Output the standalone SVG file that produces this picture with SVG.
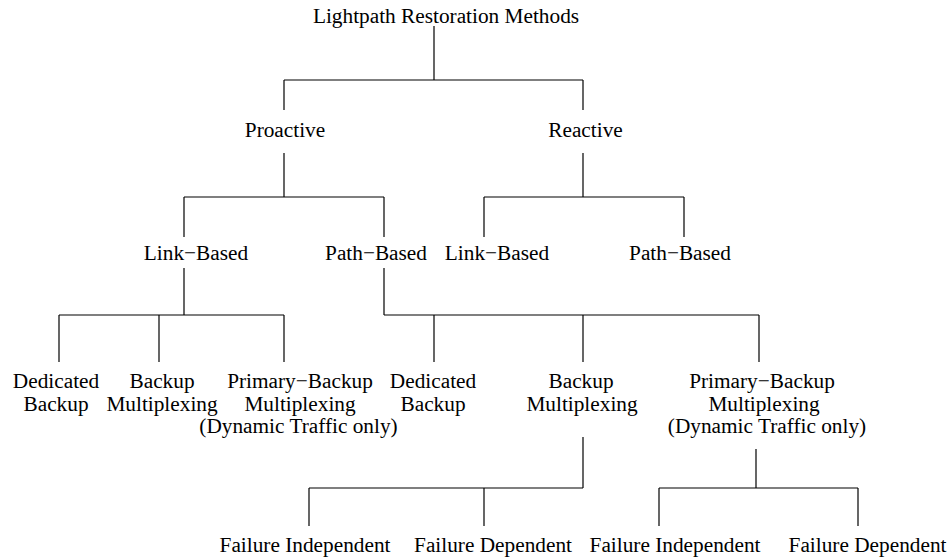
<svg xmlns="http://www.w3.org/2000/svg" width="951" height="558" viewBox="0 0 951 558">
<style>
text{font-family:"Liberation Serif","Times New Roman",serif;font-size:21.3px;fill:#000;text-anchor:middle}
.c line{stroke:#000;stroke-width:1.2;stroke-linecap:butt}
</style>
<rect width="951" height="558" fill="#fff"/>
<g class="c" id="connectors">
<line x1="434" y1="26" x2="434" y2="80"/>
<line x1="284" y1="80" x2="583" y2="80"/>
<line x1="284" y1="80" x2="284" y2="110"/>
<line x1="583" y1="80" x2="583" y2="110"/>
<line x1="284" y1="153" x2="284" y2="197"/>
<line x1="184" y1="197" x2="384" y2="197"/>
<line x1="184" y1="197" x2="184" y2="237"/>
<line x1="384" y1="197" x2="384" y2="237"/>
<line x1="583" y1="153" x2="583" y2="197"/>
<line x1="484" y1="197" x2="684" y2="197"/>
<line x1="484" y1="197" x2="484" y2="237"/>
<line x1="684" y1="197" x2="684" y2="237"/>
<line x1="184" y1="268" x2="184" y2="315"/>
<line x1="59" y1="315" x2="284" y2="315"/>
<line x1="59" y1="315" x2="59" y2="362"/>
<line x1="159" y1="315" x2="159" y2="362"/>
<line x1="284" y1="315" x2="284" y2="362"/>
<line x1="384" y1="268" x2="384" y2="315"/>
<line x1="384" y1="315" x2="759" y2="315"/>
<line x1="434" y1="315" x2="434" y2="362"/>
<line x1="583" y1="315" x2="583" y2="362"/>
<line x1="759" y1="315" x2="759" y2="362"/>
<line x1="583" y1="437" x2="583" y2="488"/>
<line x1="309" y1="488" x2="583" y2="488"/>
<line x1="309" y1="488" x2="309" y2="526"/>
<line x1="484" y1="488" x2="484" y2="526"/>
<line x1="756" y1="449" x2="756" y2="488"/>
<line x1="659" y1="488" x2="858" y2="488"/>
<line x1="659" y1="488" x2="659" y2="526"/>
<line x1="858" y1="488" x2="858" y2="526"/>
</g>
<g id="root"><text x="446" y="23.3">Lightpath Restoration Methods</text></g>
<g id="proactive"><text x="285" y="136.7">Proactive</text></g>
<g id="reactive"><text x="585.5" y="136.7">Reactive</text></g>
<g id="pro-link"><text x="196" y="260">Link−Based</text></g>
<g id="pro-path"><text x="376" y="260">Path−Based</text></g>
<g id="re-link"><text x="497" y="260">Link−Based</text></g>
<g id="re-path"><text x="680" y="260">Path−Based</text></g>
<g id="pl-dedicated"><text x="56" y="388.3">Dedicated</text><text x="56" y="410.5">Backup</text></g>
<g id="pl-backup"><text x="162" y="388.3">Backup</text><text x="162" y="410.5">Multiplexing</text></g>
<g id="pl-primary"><text x="300" y="388.3">Primary−Backup</text><text x="300" y="410.5">Multiplexing</text><text x="298.5" y="433">(Dynamic Traffic only)</text></g>
<g id="pp-dedicated"><text x="433" y="388.3">Dedicated</text><text x="433" y="410.5">Backup</text></g>
<g id="pp-backup"><text x="581" y="388.3">Backup</text><text x="582" y="410.5">Multiplexing</text></g>
<g id="pp-primary"><text x="762" y="388.3">Primary−Backup</text><text x="764" y="410.5">Multiplexing</text><text x="767" y="433">(Dynamic Traffic only)</text></g>
<g id="bm-fi"><text x="305" y="551.7">Failure Independent</text></g>
<g id="bm-fd"><text x="493" y="551.7">Failure Dependent</text></g>
<g id="pb-fi"><text x="675" y="551.7">Failure Independent</text></g>
<g id="pb-fd"><text x="867.5" y="551.7">Failure Dependent</text></g>
</svg>
